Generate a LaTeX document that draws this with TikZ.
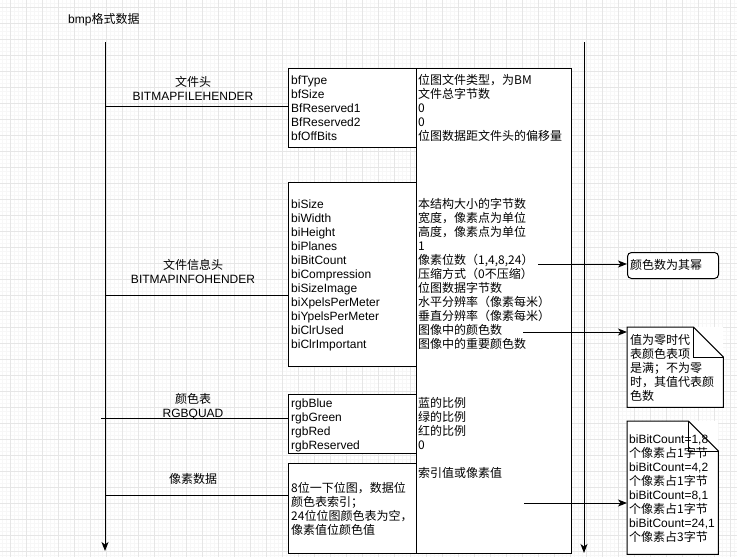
\documentclass[tikz,border=0pt]{standalone}
\usepackage{fontspec}
\setmainfont{Liberation Sans}
\newfontfamily\cjk{Noto Sans CJK SC}
\usetikzlibrary{arrows.meta,calc}
\definecolor{gmajor}{HTML}{E6E6E6}
\definecolor{gminor}{HTML}{F7F7F7}
\tikzset{
  box/.style={draw=black,line width=1pt,fill=white,inner sep=0pt,anchor=north west},
  lt/.style={inner sep=0pt,anchor=base west,font=\fontsize{12}{14}\selectfont},
  ct/.style={inner sep=0pt,anchor=base west,font=\fontsize{12}{14}\selectfont\cjk},
  lbl/.style={inner sep=0pt,anchor=base,font=\fontsize{12}{14}\selectfont},
  clbl/.style={inner sep=0pt,anchor=base,font=\fontsize{12}{14}\selectfont\cjk},
  conn/.style={line width=1pt,draw=black},
  arr/.style={line width=1pt,draw=black,-{Stealth[length=9pt,width=7pt,inset=2.5pt]}},
}
\begin{document}
\begin{tikzpicture}[x=1pt,y=-1pt]
\useasboundingbox (0,0) rectangle (737,557);
\fill[white] (0,0) rectangle (737,557);
% grid
\foreach \x in {2,6,...,737} \draw[gminor,line width=0.8pt] (\x,0) -- (\x,557);
\foreach \y in {3,7,...,557} \draw[gminor,line width=0.8pt] (0,\y) -- (737,\y);
\foreach \x in {10,26,...,737} \draw[gmajor,line width=1pt] (\x,0) -- (\x,557);
\foreach \y in {7,23,...,557} \draw[gmajor,line width=1pt] (0,\y) -- (737,\y);

% title
\node[lt] (title) at (68,23.5) {bmp{\cjk 格式数据}};

% axes
\coordinate (ltop) at (105,42);
\coordinate (lbot) at (105,551);
\coordinate (rtop) at (584,42);
\coordinate (rbot) at (584,553);
\draw[arr] (ltop) -- (lbot);
\draw[arr] (rtop) -- (rbot);

% boxes
\node[box,minimum width=155,minimum height=485] (rbox) at (416,68) {};
\node[box,minimum width=128,minimum height=79] (lb1) at (288,68) {};
\node[box,minimum width=128,minimum height=184] (lb2) at (288,182) {};
\node[box,minimum width=128,minimum height=59] (lb3) at (288,394) {};
\node[box,minimum width=128,minimum height=90] (lb4) at (288,463) {};

% axis connectors
\coordinate (a1) at (105,106);
\coordinate (a2) at (105,295);
\coordinate (a3) at (101,418);
\coordinate (a4) at (105,495);
\draw[conn] (a1) -- (a1 -| lb1.west);
\draw[conn] (a2) -- (a2 -| lb2.west);
\draw[conn] (a3) -- (a3 -| lb3.west);
\draw[conn] (a4) -- (a4 -| lb4.west);

% section labels
\node[clbl] (s1a) at (193,86.5) {文件头};
\node[lbl] (s1b) at (193,100.5) {BITMAPFILEHENDER};
\node[clbl] (s2a) at (193,269.5) {文件信息头};
\node[lbl] (s2b) at (193,283.5) {BITMAPINFOHENDER};
\node[clbl] (s3a) at (193,403.5) {颜色表};
\node[lbl] (s3b) at (193,417.5) {RGBQUAD};
\node[clbl] (s4a) at (193,483.5) {像素数据};

% box 1
\foreach \t [count=\i] in {bfType,bfSize,BfReserved1,BfReserved2,bfOffBits}
  \node[lt] (fa\i) at (291,70.5+14*\i) {\t};
\foreach \t [count=\i] in {位图文件类型，为BM,文件总字节数,0,0,位图数据距文件头的偏移量}
  \node[ct] (fb\i) at (418,70.5+14*\i) {\t};

% box 2
\foreach \t [count=\i] in {biSize,biWidth,biHeight,biPlanes,biBitCount,biCompression,biSizeImage,biXpelsPerMeter,biYpelsPerMeter,biClrUsed,biClrImportant}
  \node[lt] (ia\i) at (291,194.5+14*\i) {\t};
\foreach \t [count=\i] in {本结构大小的字节数,宽度，像素点为单位,高度，像素点为单位,1,{像素位数（1,4,8,24）},压缩方式（0不压缩）,位图数据字节数,水平分辨率（像素每米）,垂直分辨率（像素每米）,图像中的颜色数,图像中的重要颜色数}
  \node[ct] (ib\i) at (418,194.5+14*\i) {\t};

% box 3
\foreach \t [count=\i] in {rgbBlue,rgbGreen,rgbRed,rgbReserved}
  \node[lt] (qa\i) at (291,393.5+14*\i) {\t};
\foreach \t [count=\i] in {蓝的比例,绿的比例,红的比例,0}
  \node[ct] (qb\i) at (418,393.5+14*\i) {\t};
\node[ct] (pb1) at (418,477.5) {索引值或像素值};

% box 4
\foreach \t [count=\i] in {8位一下位图，数据位,颜色表索引；,24位位图颜色表为空，,像素值位颜色值}
  \node[ct] (pa\i) at (291,478.5+14*\i) {\t};

% side notes
\node[draw=black,line width=1pt,fill=white,rounded corners=4pt,inner sep=0pt,anchor=north west,minimum width=91,minimum height=26] (nr) at (627,252) {};
\node[ct] (nrt) at (630,269.5) {颜色数为其幂};

\node[fill=white,inner sep=0pt,anchor=north west,minimum width=96,minimum height=80] (n1) at (627,327) {};
\draw[line width=1pt] (n1.north west) -- ($(n1.north east)+(-30,0)$) -- ($(n1.north east)+(0,30)$) -- (n1.south east) -- (n1.south west) -- cycle;
\draw[line width=1pt] ($(n1.north east)+(-30,0)$) -- ($(n1.north east)+(-30,30)$) -- ($(n1.north east)+(0,30)$);
\foreach \t [count=\i] in {值为零时代,表颜色表项,是满；不为零,时，其值代表颜,色数}
  \node[ct] (n1t\i) at (630,330.5+14*\i) {\t};

\node[fill=white,inner sep=0pt,anchor=north west,minimum width=91,minimum height=133] (n2) at (627,421) {};
\draw[line width=1pt] (n2.north west) -- ($(n2.north east)+(-30,0)$) -- ($(n2.north east)+(0,30)$) -- (n2.south east) -- (n2.south west) -- cycle;
\draw[line width=1pt] ($(n2.north east)+(-30,0)$) -- ($(n2.north east)+(-30,30)$) -- ($(n2.north east)+(0,30)$);
\foreach \t/\f [count=\i] in {{biBitCount=1,8}/lt,个像素占1字节/ct,{biBitCount=4,2}/lt,个像素占1字节/ct,{biBitCount=8,1}/lt,个像素占1字节/ct,{biBitCount=24,1}/lt,个像素占3字节/ct}
  \node[\f] (n2t\i) at (629,429.5+14*\i) {\t};

% arrows to notes
\coordinate (b1) at (538,264);
\coordinate (b2) at (523,332);
\coordinate (b3) at (524,503);
\draw[arr] (b1) -- (b1 -| nr.west);
\draw[arr] (b2) -- (b2 -| n1.west);
\draw[arr] (b3) -- (b3 -| n2.west);
\end{tikzpicture}
\end{document}
